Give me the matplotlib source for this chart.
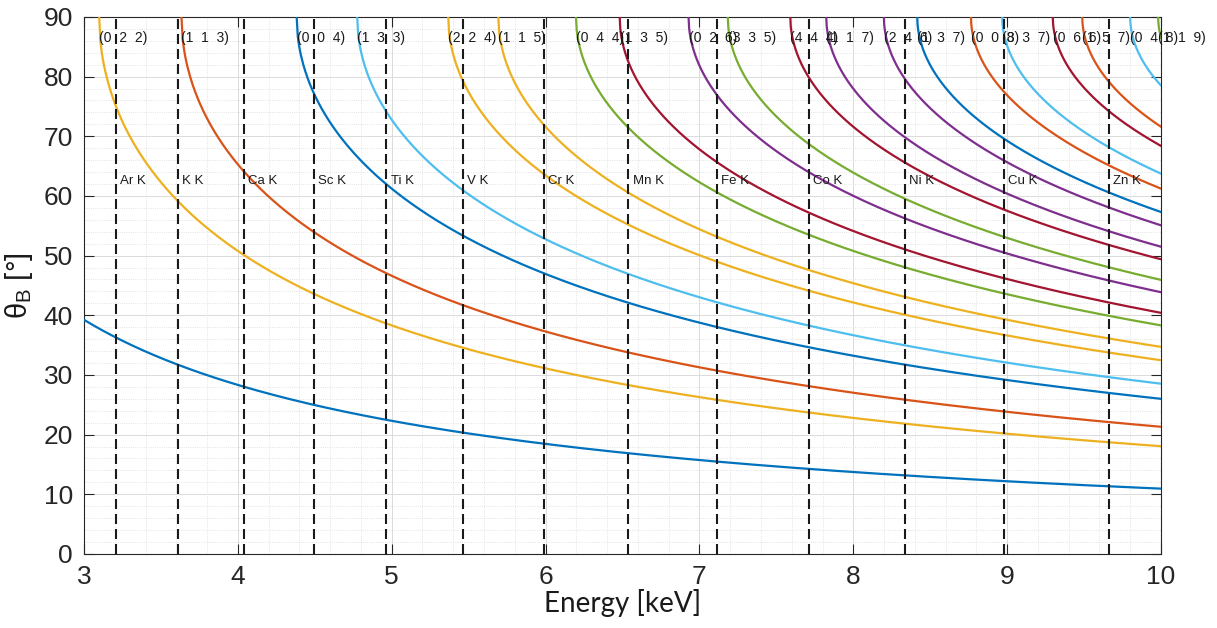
import numpy as np
import matplotlib
matplotlib.use('Agg')
import matplotlib.pyplot as plt

plt.rcParams['font.family'] = ['Liberation Sans', 'DejaVu Sans']
plt.rcParams['mathtext.fontset'] = 'custom'
plt.rcParams['mathtext.rm'] = 'Liberation Sans'
plt.rcParams['mathtext.it'] = 'Liberation Sans'

# germanium lattice constant [A] and hc [keV A]
a_ge = 5.658
hc = 12.398

# MATLAB default colours
blue = (0.0, 0.447, 0.741)
orange = (0.85, 0.325, 0.098)
yellow = (0.929, 0.694, 0.125)
purple = (0.494, 0.184, 0.556)
green = (0.466, 0.674, 0.188)
cyan = (0.301, 0.745, 0.933)
darkred = (0.635, 0.078, 0.184)

# reflections (h k l) and the colour each curve has
hkl = [(1, 1, 1), (0, 2, 2), (1, 1, 3), (0, 0, 4), (1, 3, 3), (2, 2, 4),
       (1, 1, 5), (0, 4, 4), (1, 3, 5), (0, 2, 6), (3, 3, 5), (4, 4, 4),
       (1, 1, 7), (2, 4, 6), (1, 3, 7), (0, 0, 8), (3, 3, 7), (0, 6, 6),
       (1, 5, 7), (0, 4, 8), (1, 1, 9)]
hkl_colors = [blue, yellow, orange, blue, cyan, yellow,
              yellow, green, darkred, purple, green, darkred,
              purple, purple, blue, orange, cyan, darkred,
              orange, cyan, green]

# K absorption edges [keV]
edge_names = ['Ar', 'K', 'Ca', 'Sc', 'Ti', 'V', 'Cr', 'Mn', 'Fe', 'Co',
              'Ni', 'Cu', 'Zn']
edge_energies = [3.206, 3.608, 4.038, 4.492, 4.966, 5.465, 5.989, 6.539,
                 7.112, 7.709, 8.333, 8.979, 9.659]

e_lo, e_hi = 3, 10

fig = plt.figure(figsize=(12.17, 6.28), dpi=100)
ax = fig.add_axes([0.069, 0.118, 0.885, 0.855])

for (h, k, l), c in zip(hkl, hkl_colors):
    d = a_ge / np.sqrt(h * h + k * k + l * l)
    e_min = hc / (2 * d)
    E = np.linspace(max(e_lo, e_min), e_hi, 800)
    theta = np.degrees(np.arcsin(np.clip(hc / (2 * d * E), -1, 1)))
    ax.plot(E, theta, color=c, lw=1.6, zorder=3)
    if e_min > e_lo:
        ax.text(e_min, 86.5, '(%d  %d  %d)' % (h, k, l), fontsize=10,
                color='0.1', ha='left', va='center', clip_on=False, zorder=5)

for name, e in zip(edge_names, edge_energies):
    ax.axvline(e, color='0.1', lw=1.5, dashes=(4.8, 2.4), zorder=4)
    ax.annotate(name + ' K', (e, 62.5), xytext=(3, 0),
                textcoords='offset points', fontsize=9.5, color='0.1',
                ha='left', va='center', zorder=5)

ax.set_xlim(e_lo, e_hi)
ax.set_ylim(0, 90)
ax.set_xticks(np.arange(3, 11, 1))
ax.set_yticks(np.arange(0, 91, 10))
ax.set_xticks(np.arange(3, 10.01, 0.2), minor=True)
ax.set_yticks(np.arange(0, 91, 2), minor=True)
ax.tick_params(which='major', direction='in', length=7, width=0.8,
               top=True, right=True, labelsize=19, pad=8, colors='0.15')
ax.tick_params(which='minor', length=0, top=True, right=True)
ax.grid(which='major', color='0.86', lw=0.7)
ax.grid(which='minor', color='0.86', lw=0.6, ls=':')
ax.set_axisbelow(True)
for s in ax.spines.values():
    s.set_color('0.15')
    s.set_linewidth(0.8)

ax.set_xlabel('Energy [keV]', fontsize=20, family='Lato', color='0.1',
              labelpad=0)
ax.set_ylabel(r'$\mathregular{\theta_B}$ [°]', fontsize=21, color='0.1',
              labelpad=6)

fig.savefig('out.png', dpi=100)
